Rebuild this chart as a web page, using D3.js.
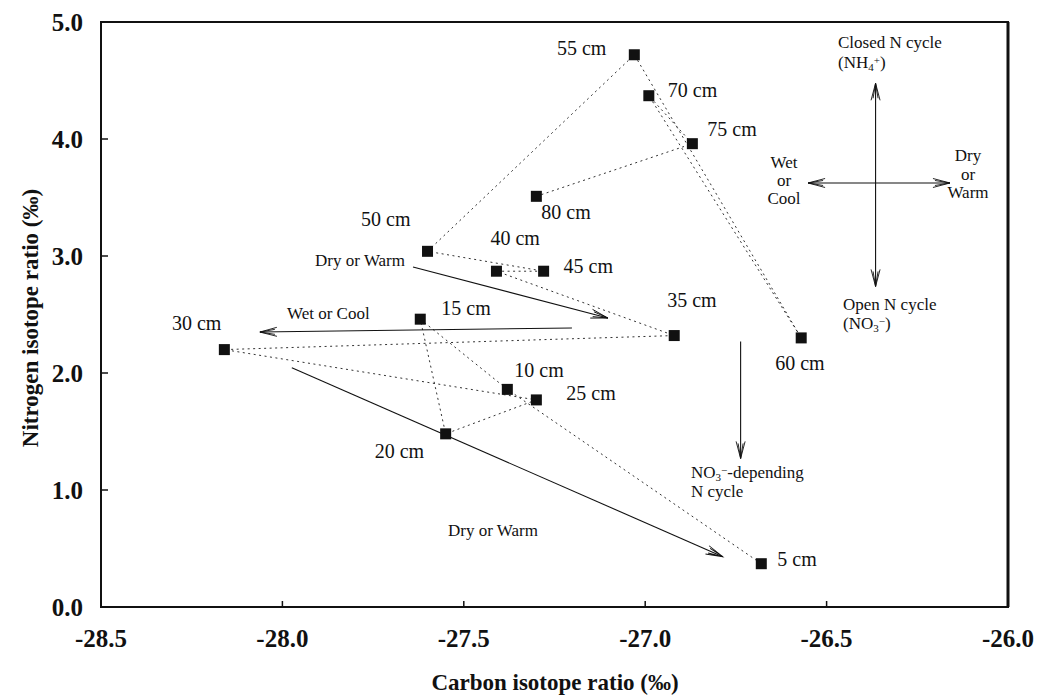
<!DOCTYPE html>
<html>
<head>
<meta charset="utf-8">
<script src="https://cdn.jsdelivr.net/npm/d3@7"></script>
<style>
  body { margin: 0; background: #fff; }
  text { font-family: "Liberation Serif", "Times New Roman", serif; fill: #111; }
</style>
</head>
<body>
<svg width="1042" height="699"></svg>
<script>
// soil depth profile, carbon vs nitrogen isotope ratios
var depths   = [5, 10, 15, 20, 25, 30, 35, 40, 45, 50, 55, 60, 70, 75, 80];
var carbon   = [-26.68, -27.38, -27.62, -27.55, -27.30, -28.16, -26.92, -27.41, -27.28, -27.60, -27.03, -26.57, -26.99, -26.87, -27.30];
var nitrogen = [0.37, 1.86, 2.46, 1.48, 1.77, 2.20, 2.32, 2.87, 2.87, 3.04, 4.72, 2.30, 4.37, 3.96, 3.51];

var xTicks = [-28.5, -28.0, -27.5, -27.0, -26.5, -26.0];
var yTicks = [0, 1, 2, 3, 4, 5];

// annotation arrows, data coords [x1, y1, x2, y2], arrowhead at end
var trendArrows = [
  [-27.64, 2.906, -27.103, 2.47],
  [-27.202, 2.385, -28.062, 2.35],
  [-27.974, 2.045, -26.786, 0.43],
  [-26.737, 2.27, -26.737, 1.27]
];
// the cross, both ends have heads
var crossArrows = [
  [-26.365, 3.624, -26.365, 4.476],
  [-26.365, 3.624, -26.365, 2.74],
  [-26.365, 3.624, -26.551, 3.624],
  [-26.365, 3.624, -26.160, 3.624]
];

var svg = d3.select("svg");

var x = d3.scaleLinear().domain([-28.5, -26.0]).range([101, 1008]);
var y = d3.scaleLinear().domain([0, 5]).range([607, 22]);

var pts = depths.map(function(d, i) { return {depth: d, c: carbon[i], n: nitrogen[i]}; });

// frame
svg.append("rect")
    .attr("x", x(-28.5)).attr("y", y(5))
    .attr("width", x(-26.0) - x(-28.5)).attr("height", y(0) - y(5))
    .attr("fill", "none").attr("stroke", "#111").attr("stroke-width", 2);
svg.append("line")
    .attr("x1", x(-26.0)).attr("x2", x(-26.0)).attr("y1", y(5)).attr("y2", y(0))
    .attr("stroke", "#111").attr("stroke-width", 3);

// inward ticks
svg.append("g").selectAll("line").data(xTicks).enter().append("line")
    .attr("x1", function(d) { return x(d); }).attr("x2", function(d) { return x(d); })
    .attr("y1", y(0)).attr("y2", y(0) - 6)
    .attr("stroke", "#111").attr("stroke-width", 1.5);
svg.append("g").selectAll("line").data(yTicks).enter().append("line")
    .attr("x1", x(-28.5)).attr("x2", x(-28.5) + 7)
    .attr("y1", function(d) { return y(d); }).attr("y2", function(d) { return y(d); })
    .attr("stroke", "#111").attr("stroke-width", 1.5);

// tick labels
svg.append("g").selectAll("text").data(xTicks).enter().append("text")
    .attr("x", function(d) { return x(d); })
    .attr("y", y(0) + 40)
    .attr("text-anchor", "middle")
    .attr("font-size", 25).attr("font-weight", "bold")
    .text(function(d) { return d3.format(".1f")(d).replace("−", "-"); });
svg.append("g").selectAll("text").data(yTicks).enter().append("text")
    .attr("x", x(-28.5) - 18)
    .attr("y", function(d) { return y(d); })
    .attr("dy", "0.35em")
    .attr("text-anchor", "end")
    .attr("font-size", 25).attr("font-weight", "bold")
    .text(function(d) { return d3.format(".1f")(d); });

// axis titles
svg.append("text")
    .attr("x", 555).attr("y", 690)
    .attr("text-anchor", "middle")
    .attr("font-size", 23).attr("font-weight", "bold")
    .text("Carbon isotope ratio (\u2030)");
svg.append("text")
    .attr("transform", "translate(38,318) rotate(-90)")
    .attr("text-anchor", "middle")
    .attr("font-size", 23).attr("font-weight", "bold")
    .text("Nitrogen isotope ratio (\u2030)");

// dotted path through depths
var line = d3.line()
    .x(function(d) { return x(d.c); })
    .y(function(d) { return y(d.n); });
svg.append("path")
    .datum(pts)
    .attr("d", line)
    .attr("fill", "none")
    .attr("stroke", "#333")
    .attr("stroke-width", 1)
    .attr("stroke-dasharray", "2,3.5");

// arrows
function arrowHead(g, x1, y1, x2, y2) {
  var a = Math.atan2(y2 - y1, x2 - x1) * 180 / Math.PI;
  g.append("path")
      .attr("transform", "translate(" + x2 + "," + y2 + ") rotate(" + a + ")")
      .attr("d", "M-17,-4.5L0,0L-17,4.5M-15,-2.5L0,0L-15,2.5")
      .attr("fill", "none").attr("stroke", "#111").attr("stroke-width", 0.9);
}
var arrows = svg.append("g");
trendArrows.concat(crossArrows).forEach(function(a) {
  var x1 = x(a[0]), y1 = y(a[1]), x2 = x(a[2]), y2 = y(a[3]);
  arrows.append("line")
      .attr("x1", x1).attr("y1", y1).attr("x2", x2).attr("y2", y2)
      .attr("stroke", "#111").attr("stroke-width", 1.1);
  arrowHead(arrows, x1, y1, x2, y2);
});

// square markers
svg.append("g").selectAll("rect").data(pts).enter().append("rect")
    .attr("x", function(d) { return x(d.c) - 5.5; })
    .attr("y", function(d) { return y(d.n) - 5.5; })
    .attr("width", 11).attr("height", 11)
    .attr("fill", "#111");

// depth labels, offsets in px from the marker
var labelOffset = {
  5: [16, -5, "start"], 10: [7, -19, "start"], 15: [21, -11, "start"], 20: [-71, 17, "start"],
  25: [30, -7, "start"], 30: [-3, -27, "end"], 35: [-7, -36, "start"], 40: [-6, -33, "start"],
  45: [20, -5, "start"], 50: [-17, -32, "end"], 55: [-28, -7, "end"], 60: [-26, 25, "start"],
  70: [19, -6, "start"], 75: [15, -15, "start"], 80: [5, 16, "start"]
};
svg.append("g").selectAll("text").data(pts).enter().append("text")
    .attr("x", function(d) { return x(d.c) + labelOffset[d.depth][0]; })
    .attr("y", function(d) { return y(d.n) + labelOffset[d.depth][1]; })
    .attr("dy", "0.35em")
    .attr("text-anchor", function(d) { return labelOffset[d.depth][2]; })
    .attr("font-size", 20)
    .text(function(d) { return d.depth + " cm"; });

// annotation texts
function note(px, py, anchor, parts) {
  var t = svg.append("text")
      .attr("x", px).attr("y", py).attr("dy", "0.35em")
      .attr("text-anchor", anchor)
      .attr("font-size", 17);
  parts.forEach(function(p) {
    var s = t.append("tspan").text(p[0]);
    if (p[1] === "sub") s.attr("baseline-shift", "-25%").attr("font-size", 11);
    if (p[1] === "sup") s.attr("baseline-shift", "35%").attr("font-size", 11);
  });
}
note(405, 260, "end", [["Dry or Warm"]]);
note(287, 313, "start", [["Wet or Cool"]]);
note(448, 530, "start", [["Dry or Warm"]]);
note(691, 472, "start", [["NO"], ["3", "sub"], ["\u2212", "sup"], ["-depending"]]);
note(691, 491, "start", [["N cycle"]]);
note(838, 42, "start", [["Closed N cycle"]]);
note(838, 62, "start", [["(NH"], ["4", "sub"], ["+", "sup"], [")"]]);
note(843, 304, "start", [["Open N cycle"]]);
note(843, 323, "start", [["(NO"], ["3", "sub"], ["\u2212", "sup"], [")"]]);
note(784, 162, "middle", [["Wet"]]);
note(784, 180, "middle", [["or"]]);
note(784, 198, "middle", [["Cool"]]);
note(968, 155, "middle", [["Dry"]]);
note(968, 174, "middle", [["or"]]);
note(968, 192, "middle", [["Warm"]]);
</script>
</body>
</html>
